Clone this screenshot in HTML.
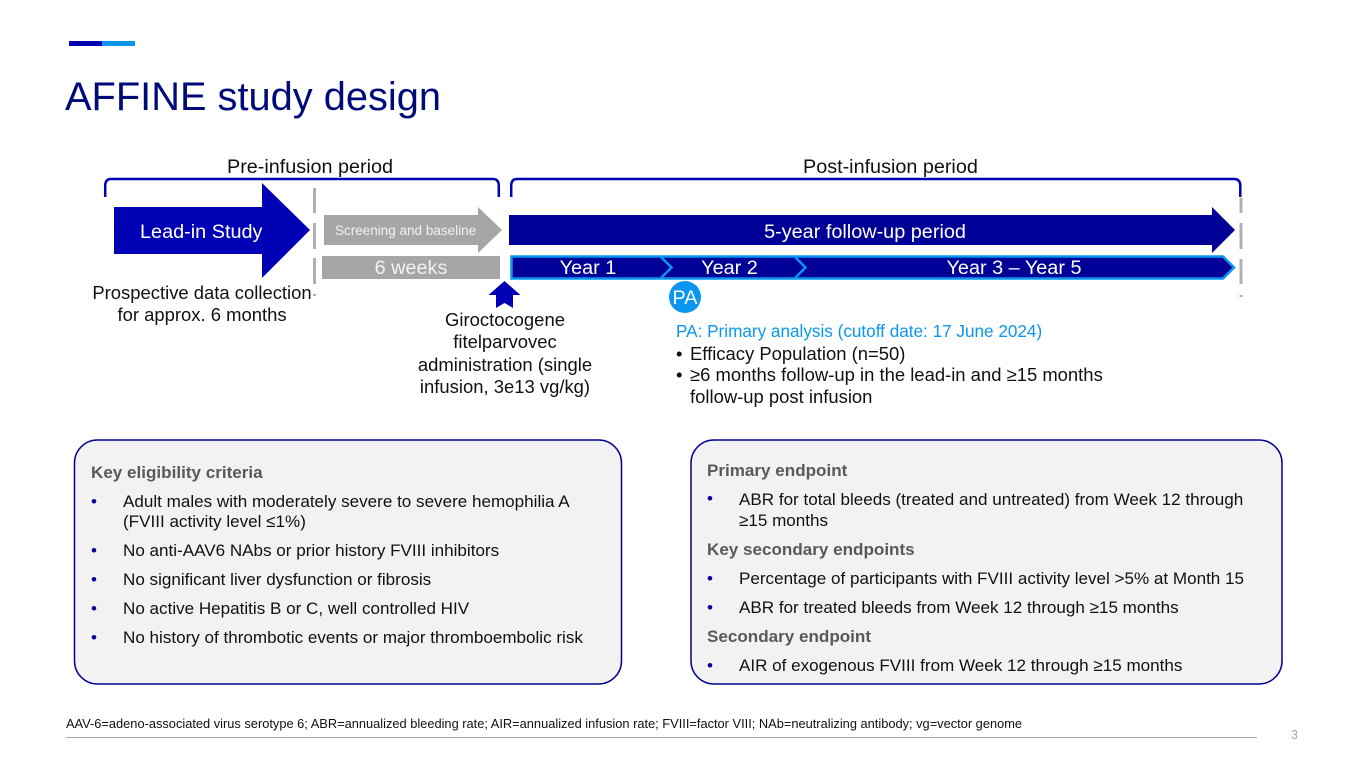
<!DOCTYPE html>
<html><head><meta charset="utf-8">
<style>
html,body{margin:0;padding:0;background:#fff}
#p{position:relative;width:1365px;height:768px;overflow:hidden;font-family:"Liberation Sans",sans-serif;color:#111}
svg{position:absolute;left:0;top:0}
.t{position:absolute;white-space:nowrap;font-size:17.07px;line-height:20px}
.c{transform:translateX(-50%);text-align:center}
.w{color:#fff;font-size:19.85px}
.b{font-weight:bold;color:#595959}
.d{color:#000096}
.m{font-size:18.45px;line-height:22.4px}
</style></head><body><div id="p">
<svg width="1365" height="768" viewBox="0 0 1365 768">
<rect x="69" y="41" width="33" height="5" fill="#0000b4"/>
<rect x="102" y="41" width="33" height="5" fill="#0a96f0"/>
<g fill="none" stroke="#0000b4" stroke-width="2.500">
<path d="M105.200 197V186Q105.200 179 111 179H493Q498.800 179 498.800 186V197"/>
<path d="M511.200 197V186Q511.200 179 517 179H1234Q1240.300 179 1240.300 186V197"/>
</g>
<g stroke="#b0b0b0" stroke-width="3" fill="none">
<path d="M314.500 188V213M314.500 223V249M314.500 258V284M314.500 294V296"/>
<path d="M1241 198V213M1241 223V249M1241 259V284M1241 295V297"/>
</g>
<path d="M114 207H262V183L310 230L262 278V254H114Z" fill="#0000b4"/>
<path d="M324 215H478V207L502 230L478 253V245H324Z" fill="#a6a6a6"/>
<rect x="322" y="256" width="178" height="23" fill="#a6a6a6"/>
<path d="M509 215H1212V207L1235 230L1212 253V245H509Z" fill="#000096"/>
<path d="M511.500 256.500H1223L1234 267.500L1223 278.500H511.500Z" fill="#000096" stroke="#0a96f0" stroke-width="2.500"/>
<path d="M661 257L671.500 267.500L661 278M795 257L805.500 267.500L795 278" fill="none" stroke="#0a96f0" stroke-width="2.500"/>
<circle cx="685" cy="297" r="16" fill="#0a96f0"/>
<path d="M504.500 281L520.500 295H513V308L504.500 303L496 308V295H488.500Z" fill="#0000b4"/>
<rect x="74.500" y="440" width="547" height="244" rx="23" fill="#f2f2f2" stroke="#000096" stroke-width="1.500"/>
<rect x="691" y="440" width="591" height="244" rx="23" fill="#f2f2f2" stroke="#000096" stroke-width="1.500"/>
<rect x="66" y="737" width="1191" height="1" fill="#a6a6a6"/>
</svg>

<div class="t" style="left:65px;top:73px;font-size:39.800px;line-height:48px;color:#000a78">AFFINE study design</div>
<div class="t" style="left:227px;top:157px;font-size:19.800px">Pre-infusion period</div>
<div class="t" style="left:803px;top:157px;font-size:19.800px">Post-infusion period</div>

<div class="t w" style="left:140px;top:222px">Lead-in Study</div>
<div class="t w" style="left:335px;top:221px;font-size:13.500px;color:#f2f2f2">Screening and baseline</div>
<div class="t w c" style="left:411px;top:258px;color:#f2f2f2">6 weeks</div>
<div class="t w c" style="left:865px;top:222px">5-year follow-up period</div>
<div class="t w c" style="left:588px;top:258px">Year 1</div>
<div class="t w c" style="left:729.500px;top:258px">Year 2</div>
<div class="t w c" style="left:1014px;top:258px">Year 3 – Year 5</div>
<div class="t w c" style="left:685px;top:288px">PA</div>

<div class="t c m" style="left:202px;top:282px">Prospective data collection<br>for approx. 6 months</div>
<div class="t c m" style="left:505px;top:309px">Giroctocogene<br>fitelparvovec<br>administration (single<br>infusion, 3e13 vg/kg)</div>

<div class="t" style="left:676px;top:320px;font-size:17.150px;line-height:22px;color:#0a96f0">PA: Primary analysis (cutoff date: 17 June 2024)</div>
<div class="t m" style="left:676px;top:343px">•</div>
<div class="t m" style="left:690px;top:343px">Efficacy Population (n=50)</div>
<div class="t m" style="left:676px;top:364px">•</div>
<div class="t m" style="left:690px;top:364px;line-height:22px">≥6 months follow-up in the lead-in and ≥15 months<br>follow-up post infusion</div>

<div class="t b" style="left:91px;top:463px">Key eligibility criteria</div>
<div class="t d" style="left:91px;top:492px">•</div>
<div class="t" style="left:123px;top:492px;line-height:20px">Adult males with moderately severe to severe hemophilia A<br>(FVIII activity level ≤1%)</div>
<div class="t d" style="left:91px;top:541px">•</div>
<div class="t" style="left:123px;top:541px">No anti-AAV6 NAbs or prior history FVIII inhibitors</div>
<div class="t d" style="left:91px;top:570px">•</div>
<div class="t" style="left:123px;top:570px">No significant liver dysfunction or fibrosis</div>
<div class="t d" style="left:91px;top:599px">•</div>
<div class="t" style="left:123px;top:599px">No active Hepatitis B or C, well controlled HIV</div>
<div class="t d" style="left:91px;top:628px">•</div>
<div class="t" style="left:123px;top:628px">No history of thrombotic events or major thromboembolic risk</div>

<div class="t b" style="left:707px;top:461px">Primary endpoint</div>
<div class="t d" style="left:707px;top:489px">•</div>
<div class="t" style="left:739px;top:489px;line-height:21px">ABR for total bleeds (treated and untreated) from Week 12 through<br>≥15 months</div>
<div class="t b" style="left:707px;top:540px">Key secondary endpoints</div>
<div class="t d" style="left:707px;top:569px">•</div>
<div class="t" style="left:739px;top:569px">Percentage of participants with FVIII activity level &gt;5% at Month 15</div>
<div class="t d" style="left:707px;top:598px">•</div>
<div class="t" style="left:739px;top:598px">ABR for treated bleeds from Week 12 through ≥15 months</div>
<div class="t b" style="left:707px;top:627px">Secondary endpoint</div>
<div class="t d" style="left:707px;top:656px">•</div>
<div class="t" style="left:739px;top:656px">AIR of exogenous FVIII from Week 12 through ≥15 months</div>

<div class="t" style="left:66px;top:716px;font-size:12.840px;line-height:16px">AAV-6=adeno-associated virus serotype 6; ABR=annualized bleeding rate; AIR=annualized infusion rate; FVIII=factor VIII; NAb=neutralizing antibody; vg=vector genome</div>
<div class="t" style="left:1291px;top:727px;font-size:12.500px;line-height:16px;color:#a6a6a6">3</div>
</div></body></html>
